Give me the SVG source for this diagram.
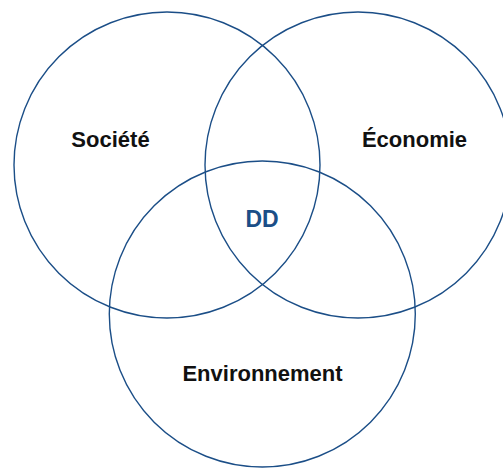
<svg xmlns="http://www.w3.org/2000/svg" width="503" height="468" viewBox="0 0 503 468">
<style>
.c{fill:none;stroke:#1b4e87;stroke-width:1.4}
.t{font-family:"Liberation Sans",Arial,sans-serif;font-weight:bold;font-size:22px;fill:#111;text-anchor:middle}
.dd{font-family:"Liberation Sans",Arial,sans-serif;font-weight:bold;font-size:23px;fill:#1b4e87;text-anchor:middle}
</style>
<rect width="503" height="468" fill="#fff"/>
<g id="societe"><circle class="c" cx="167" cy="165" r="153"/><text class="t" x="110.5" y="146.7">Société</text></g>
<g id="economie"><circle class="c" cx="358" cy="165" r="153"/><text class="t" x="414.5" y="146.7">Économie</text></g>
<g id="environnement"><circle class="c" cx="262.3" cy="314" r="153"/><text class="t" x="262.5" y="381">Environnement</text></g>
<g id="dd"><text class="dd" x="262" y="226.7">DD</text></g>
<g id="connectors"/>
</svg>
